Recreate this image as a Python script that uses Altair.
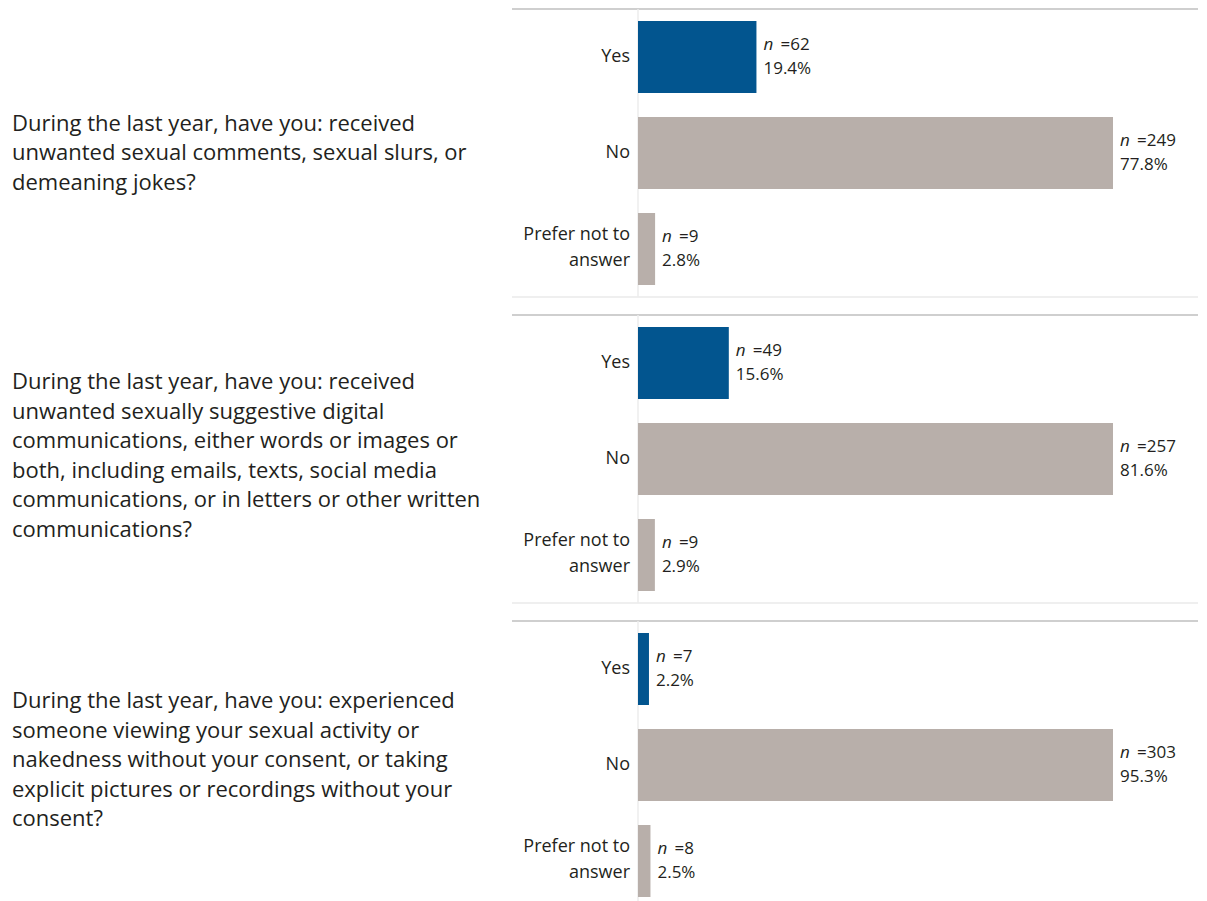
import altair as alt
import pandas as pd

questions = [
    "During the last year, have you: received\nunwanted sexual comments, sexual slurs, or\ndemeaning jokes?",
    "During the last year, have you: received\nunwanted sexually suggestive digital\ncommunications, either words or images or\nboth, including emails, texts, social media\ncommunications, or in letters or other written\ncommunications?",
    "During the last year, have you: experienced\nsomeone viewing your sexual activity or\nnakedness without your consent, or taking\nexplicit pictures or recordings without your\nconsent?",
]
answers = ["Yes", "No", "Prefer not to answer"]
answer_labels = ["Yes", "No", "Prefer not to|answer"]
n_values = [[62, 249, 9], [49, 257, 9], [7, 303, 8]]
pct_values = [[19.4, 77.8, 2.8], [15.6, 81.6, 2.9], [2.2, 95.3, 2.5]]

FONT = "Open Sans"
TXT = "#231f20"
BLUE = "#02558f"
TAUPE = "#b8afaa"

W = 475
H = 288
LEFT = -626
RIGHT = 560
QLH = 29.5
Q_SHIFT = [0, -3, -5]


def panel(i):
    df = pd.DataFrame({
        "answer": answers,
        "label": answer_labels,
        "n": n_values[i],
        "pct": pct_values[i],
    })
    df["nlab"] = "=" + df["n"].astype(str)
    df["plab"] = df["pct"].map(lambda v: f"{v:.1f}%")
    df["multi"] = df["label"].str.contains(r"\|")
    base = alt.Chart(df)
    y = alt.Y("answer:N", sort=answers, axis=None,
              scale=alt.Scale(paddingInner=0.25, paddingOuter=0.125))
    x = alt.X("pct:Q", axis=None, scale=alt.Scale(zero=True, nice=False))

    bars = base.mark_bar().encode(
        x=x, y=y,
        color=alt.Color("answer:N", scale=alt.Scale(domain=answers, range=[BLUE, TAUPE, TAUPE]), legend=None),
    )
    n_it = base.mark_text(align="left", baseline="middle", dx=7, dy=-12, fontSize=17,
                          fontStyle="italic", font=FONT, color=TXT).encode(x=x, y=y, text=alt.value("n"))
    n_txt = base.mark_text(align="left", baseline="middle", dx=24, dy=-12, fontSize=17,
                           font=FONT, color=TXT).encode(x=x, y=y, text="nlab:N")
    p_txt = base.mark_text(align="left", baseline="middle", dx=7, dy=12, fontSize=17,
                           font=FONT, color=TXT).encode(x=x, y=y, text="plab:N")
    cat1 = base.transform_filter("!datum.multi").mark_text(
        align="right", baseline="middle", fontSize=18, font=FONT, color=TXT).encode(
        x=alt.value(-8), y=y, text="label:N")
    cat2 = base.transform_filter("datum.multi").mark_text(
        align="right", baseline="middle", lineBreak="|", lineHeight=26, dy=-14,
        fontSize=18, font=FONT, color=TXT).encode(
        x=alt.value(-8), y=y, text="label:N")

    nlines = questions[i].count("\n") + 1
    one = alt.Chart(pd.DataFrame({"q": [questions[i]]}))
    qtext = one.mark_text(align="left", baseline="middle", lineBreak="\n", lineHeight=QLH,
                          fontSize=22, font=FONT, color=TXT, dy=Q_SHIFT[i]).encode(
        x=alt.value(LEFT), y=alt.value(H / 2 - (nlines - 1) * QLH / 2), text="q:N")
    top_rule = one.mark_rule(color="#cfcfcf", strokeWidth=2).encode(
        x=alt.value(-126), x2=alt.value(RIGHT), y=alt.value(0))
    bot_rule = one.mark_rule(color="#efefef", strokeWidth=2).encode(
        x=alt.value(-126), x2=alt.value(RIGHT), y=alt.value(H))
    vline = one.mark_rule(color="#ececec", strokeWidth=1.5).encode(
        x=alt.value(0), y=alt.value(0), y2=alt.value(H))

    return alt.layer(top_rule, bot_rule, vline, bars, n_it, n_txt, p_txt, cat1, cat2, qtext).properties(
        width=W, height=H)


chart = alt.vconcat(panel(0), panel(1), panel(2), spacing=16).resolve_scale(
    x="independent", y="independent", color="independent"
).properties(
    padding={"left": 4, "top": 0, "right": 0, "bottom": 0}
).configure_view(stroke=None)

chart.save("out.html", embed_options={"renderer": "svg", "actions": False})
